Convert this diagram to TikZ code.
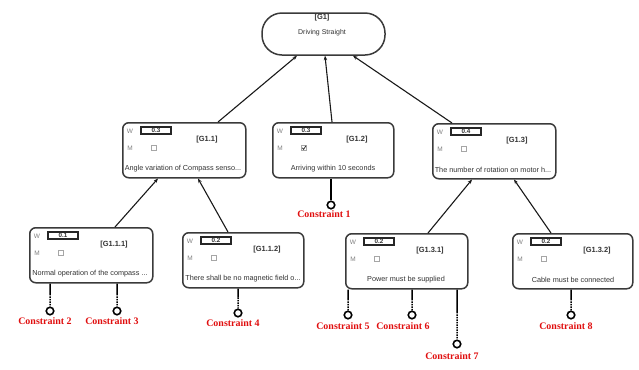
\documentclass[tikz,border=0pt]{standalone}
\usepackage{fontspec}
\setmainfont{Liberation Sans}
\newfontfamily\cfont{Liberation Serif}
\usetikzlibrary{arrows.meta,calc}
\definecolor{edge}{HTML}{3A3A3A}
\definecolor{txt}{HTML}{333333}
\definecolor{cred}{HTML}{E00E0E}
\newcommand\GoalBox[7]{%
  \node[goal,minimum width=#7] (#1) at (#2,#3) {};
  \node[wlab] (#1-w) at ($(#1.north west)+(8,9)$) {W};
  \node[wbox] (#1-wv) at ($(#1.north west)+(34,8.5)$) {#4};
  \node[wlab] (#1-m) at ($(#1.north west)+(8,26)$) {M};
  \node[cbox] (#1-c) at ($(#1.north west)+(32,26)$) {};
  \node[gid] (#1-id) at ($(#1.north west)+(85,18)$) {#5};
  \node[gtext] (#1-t) at ($(#1.north west)+(61,47)$) {#6};
}
\newcommand\ConstraintLink[6]{%
  \node[cpoint] (#1) at (#3,#4) {};
  \coordinate (#1-top) at (#1.center |- #2.south);
  \coordinate (#1-mid) at ($(#1-top)!0.45!(#1.north)$);
  \draw[clink] (#1-top) -- (#1-mid);
  \draw[clink,dash pattern=on 1.5bp off 1bp] (#1-mid) -- (#1.north);
  \node[clabel] (#1-label) at (#6) {#5};
}
\begin{document}
\begin{tikzpicture}[x=1bp,y=-1bp,
  goal/.style={draw=edge,line width=1.5bp,fill=white,rounded corners=6bp,
    minimum height=55bp,inner sep=0pt,anchor=north west},
  top/.style={draw=edge,line width=1.5bp,fill=white,rounded corners=20bp,
    minimum width=123bp,minimum height=42bp,inner sep=0pt},
  wlab/.style={font=\fontsize{6.5}{7}\selectfont,text=gray,inner sep=0pt},
  wbox/.style={draw=black!85,line width=1.3bp,minimum width=30bp,minimum height=7bp,
    inner sep=0pt,font=\fontsize{6.3}{6}\bfseries\selectfont,text=txt},
  cbox/.style={draw=gray!70,line width=0.6bp,minimum size=5.5bp,inner sep=0pt},
  gid/.style={font=\fontsize{7.5}{8}\bfseries\selectfont,text=txt,inner sep=0pt},
  gtext/.style={font=\fontsize{7.3}{8}\selectfont,text=txt,inner sep=0pt},
  cpoint/.style={circle,draw=black,line width=1.6bp,fill=white,minimum size=7.5bp,inner sep=0pt},
  clink/.style={draw=black,line width=1.5bp},
  clabel/.style={font=\cfont\fontsize{10}{11}\bfseries\selectfont,text=cred,inner sep=0pt},
  arr/.style={draw=black!90,line width=1.1bp,-{Stealth[length=4.5bp,width=3.5bp]}}
]
\useasboundingbox (0,0) rectangle (639,369);
% top goal
\node[top] (G1) at (323.5,34) {};
\node[gid] (G1-id) at (322,18) {[G1]};
\node[gtext,font=\fontsize{7}{8}\selectfont] (G1-t) at (322,33) {Driving Straight};
% second level
\GoalBox{G11}{122}{122}{0.3}{[G1.1]}{Angle variation of Compass senso...}{123bp}
\GoalBox{G12}{272}{122}{0.3}{[G1.2]}{Arriving within 10 seconds}{121bp}
\GoalBox{G13}{432}{123}{0.4}{[G1.3]}{The number of rotation on motor h...}{123bp}
% third level
\GoalBox{G111}{29}{227}{0.1}{[G1.1.1]}{Normal operation of the compass ...}{123bp}
\GoalBox{G112}{182}{232}{0.2}{[G1.1.2]}{There shall be no magnetic field o...}{121bp}
\GoalBox{G131}{345}{233}{0.2}{[G1.3.1]}{Power must be supplied}{122bp}
\GoalBox{G132}{512}{233}{0.2}{[G1.3.2]}{Cable must be connected}{120bp}
% check mark
\draw[black!80,line width=0.8bp] ($(G12-c.center)+(-1.6,-0.2)$) -- ($(G12-c.center)+(-0.4,1.4)$) -- ($(G12-c.center)+(1.9,-2.2)$);
% arrows
\draw[arr] ($(G11.north west)+(96,0)$) -- ($(G1.south)+(-26.5,0)$);
\draw[arr] ($(G12.north west)+(60,0)$) -- ($(G1.south)+(1.5,0)$);
\draw[arr] ($(G13.north west)+(20,0)$) -- ($(G1.south)+(29.5,0)$);
\draw[arr] ($(G111.north west)+(86,0)$) -- ($(G11.south west)+(36,0)$);
\draw[arr] ($(G112.north west)+(46,0)$) -- ($(G11.south west)+(76,0)$);
\draw[arr] ($(G131.north west)+(83,0)$) -- ($(G13.south west)+(40,0)$);
\draw[arr] ($(G132.north west)+(39,0)$) -- ($(G13.south west)+(82,0)$);
% constraints
\node[cpoint] (C1) at (331,205) {};
\draw[clink] (C1.center |- G12.south) -- (C1.north);
\node[clabel] (C1-label) at (324,214) {Constraint 1};
\ConstraintLink{C2}{G111}{50}{311}{Constraint 2}{45,321}
\ConstraintLink{C3}{G111}{117}{311}{Constraint 3}{112,321}
\ConstraintLink{C4}{G112}{238}{313}{Constraint 4}{233,323}
\ConstraintLink{C5}{G131}{348}{315}{Constraint 5}{343,326}
\ConstraintLink{C6}{G131}{412}{315}{Constraint 6}{403,326}
\ConstraintLink{C7}{G131}{457}{344}{Constraint 7}{452,356}
\ConstraintLink{C8}{G132}{571}{315}{Constraint 8}{566,326}
\end{tikzpicture}
\end{document}
